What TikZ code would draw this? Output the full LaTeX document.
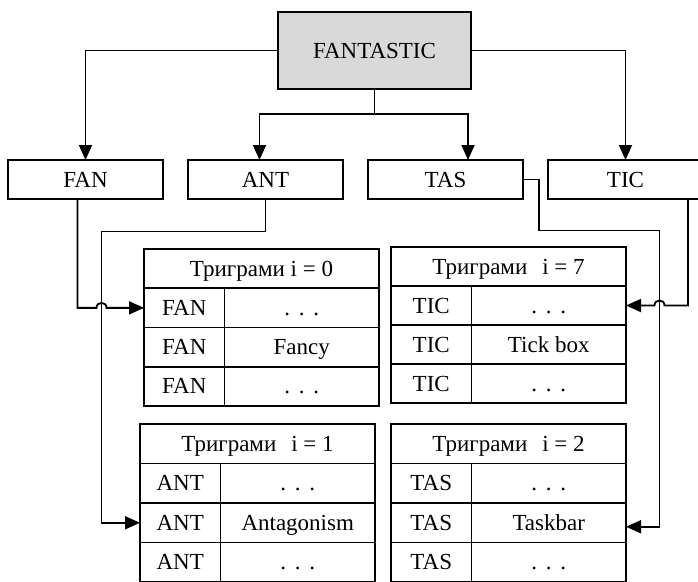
\documentclass[tikz,border=0pt]{standalone}
\usepackage{fontspec}
\setmainfont{Liberation Serif}
\usetikzlibrary{arrows.meta,calc}

% one trigram table: name, left x, top y, row height, title, key, three values
\newcommand\trigramtable[9]{%
  \node[cell, minimum width=235pt, minimum height=#4pt] (#1-h) at (#2,#3) {#5};
  \node[cell, minimum width=80.5pt, minimum height=#4pt] (#1-k1) at (#1-h.south west) {#6};
  \node[cell, minimum width=154.5pt, minimum height=#4pt] (#1-v1) at (#1-k1.north east) {#7};
  \node[cell, minimum width=80.5pt, minimum height=#4pt] (#1-k2) at (#1-k1.south west) {#6};
  \node[cell, minimum width=154.5pt, minimum height=#4pt] (#1-v2) at (#1-k2.north east) {#8};
  \node[cell, minimum width=80.5pt, minimum height=#4pt] (#1-k3) at (#1-k2.south west) {#6};
  \node[cell, minimum width=154.5pt, minimum height=#4pt] (#1-v3) at (#1-k3.north east) {#9};
}
\newcommand\gap{.\hspace{0.38em}.\hspace{0.38em}.}

\begin{document}
\begin{tikzpicture}[x=1pt,y=-1pt,
  box/.style={draw=black, line width=1.9pt, inner sep=0pt, outer sep=0pt,
    text height=15.2pt, text depth=0pt, font=\fontsize{23}{27}\selectfont},
  cell/.style={box, anchor=north west},
  conn/.style={draw=black, line width=1.8pt},
  arr/.style={-{Triangle[length=15pt,width=13pt]}}]
\useasboundingbox (0,0) rectangle (698,581);

% word and its trigrams
\node[box, fill=black!15, minimum width=193pt, minimum height=77pt] (root) at (374.5,50.5) {FANTASTIC};
\node[box, minimum width=155pt, minimum height=39pt] (fan) at (85.5,179.5) {FAN};
\node[box, minimum width=155pt, minimum height=39pt] (ant) at (265.5,179.5) {ANT};
\node[box, minimum width=155pt, minimum height=39pt] (tas) at (445.5,179.5) {TAS};
\node[box, minimum width=155pt, minimum height=39pt] (tic) at (625.5,179.5) {TIC};

% hash tables
\trigramtable{t0}{144}{249}{39.25}{Триграми i = 0}{FAN}{\gap}{Fancy}{\gap}
\trigramtable{t7}{391}{247}{39}{Триграми\hspace{0.65em}i = 7}{TIC}{\gap}{Tick box}{\gap}
\trigramtable{t1}{140}{424}{39.5}{Триграми\hspace{0.65em}i = 1}{ANT}{\gap}{Antagonism}{\gap}
\trigramtable{t2}{391}{424}{39.5}{Триграми\hspace{0.65em}i = 2}{TAS}{\gap}{Taskbar}{\gap}

% splitting the word
\coordinate (split) at (374.5,114);
\draw[conn,arr] (root.west) -| (fan.north);
\draw[conn,arr] (root.east) -| (tic.north);
\draw[conn] (root.south) -- (split);
\draw[conn,arr] (split) -| ([xshift=-6pt]ant.north);
\draw[conn,arr] (split) -| ([xshift=22.5pt]tas.north);

% bend points of the long connectors
\coordinate (antleft) at (101.5,231.5);
\coordinate (tasA) at (539,230.5);
\coordinate (tasB) at (659.5,230.5);

% trigrams into their tables
\draw[conn,arr] ([xshift=-8pt]fan.south) |- ($(antleft |- t0-k1.west)+(-5,0)$)
  .. controls +(0,-6.7) and +(0,-6.7) .. ($(antleft |- t0-k1.west)+(5,0)$) -- (t0-k1.west);
\draw[conn,arr] (ant.south) |- (antleft) |- (t1-k2.west);
\draw[conn,arr] (tas.east) -| (tasA) -- (tasB) |- ([yshift=-4pt]t2-v2.east);
\draw[conn,arr] ([xshift=62.5pt]tic.south) |- ($(tasB |- t7-v1.east)+(5,0)$)
  .. controls +(0,-6.7) and +(0,-6.7) .. ($(tasB |- t7-v1.east)+(-5,0)$) -- (t7-v1.east);
\end{tikzpicture}
\end{document}
